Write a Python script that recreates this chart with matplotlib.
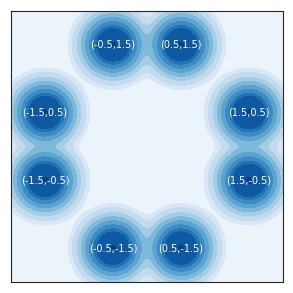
import numpy as np
import matplotlib
matplotlib.use("Agg")
import matplotlib.pyplot as plt

px = [-0.5, 0.5, -1.5, 1.5, -1.5, 1.5, -0.5, 0.5]
py = [1.5, 1.5, 0.5, 0.5, -0.5, -0.5, -1.5, -1.5]
labels = ["(-0.5,1.5)", "(0.5,1.5)", "(-1.5,0.5)", "(1.5,0.5)",
          "(-1.5,-0.5)", "(1.5,-0.5)", "(-0.5,-1.5)", "(0.5,-1.5)"]
sigma = 0.2
levels = [0.0, 0.0045, 0.0116, 0.033, 0.069, 0.131, 0.23, 0.365, 0.49, 0.975, 2.0]

fig = plt.figure(figsize=(2.93, 2.93), dpi=100)
ax = fig.add_axes([11/293, 11/293, 272/293, 271/293])
g = np.linspace(-2, 2, 100)
X, Y = np.meshgrid(g, g)
Z = np.zeros_like(X)
for x0, y0 in zip(px, py):
    Z += np.exp(-((X - x0)**2 + (Y - y0)**2) / (2 * sigma**2))
n = len(levels) - 1
colors = [plt.cm.Blues((i + 0.6) / (n + 0.2)) for i in range(n)]
ax.contourf(X, Y, Z, levels=levels, colors=colors)
for x0, y0, t in zip(px, py, labels):
    ax.text(x0, y0, t, color="white", ha="center", va="center", fontsize=7)
ax.set_xlim(-2, 2)
ax.set_ylim(-2, 2)
ax.set_xticks([])
ax.set_yticks([])
for s in ax.spines.values():
    s.set_color("#262626")
    s.set_linewidth(0.8)
fig.savefig("out.png", dpi=100)
